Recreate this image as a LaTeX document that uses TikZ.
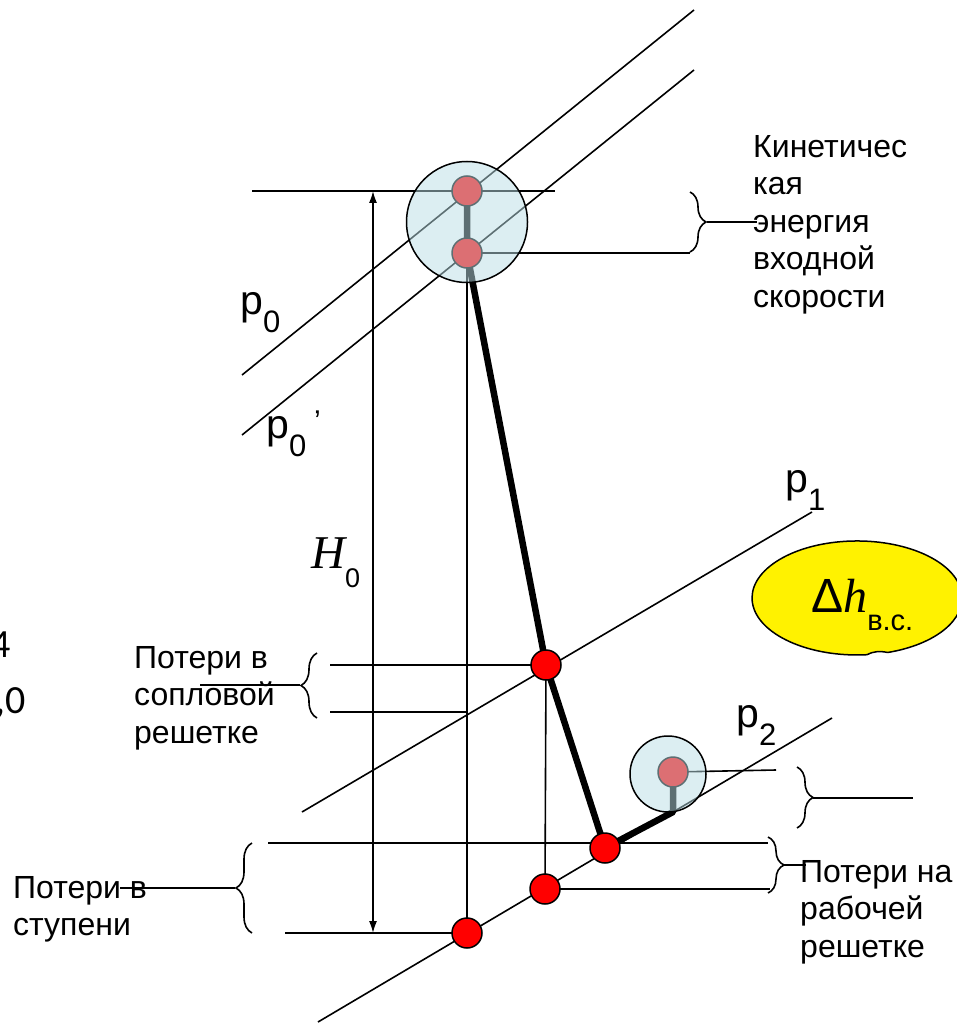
\documentclass[tikz,border=0pt]{standalone}
\usepackage{fontspec}
\setmainfont{Liberation Sans}
\newfontfamily\serifit{Liberation Serif}
\newfontfamily\digitfont{Carlito}
\usetikzlibrary{arrows.meta, decorations.pathreplacing, positioning}
\definecolor{lensblue}{RGB}{186,222,230}
\newcommand{\pname}[1]{{\fontsize{41}{41}\selectfont p}\raisebox{-18pt}{\fontsize{31}{31}\selectfont #1}}

\begin{document}
\begin{tikzpicture}[
    x=1pt, y=-1pt,
    thinline/.style={line width=1.6pt},
    process/.style={line width=6.5pt, line join=round},
    state/.style={circle, draw, line width=1.5pt, fill=red, minimum size=30pt, inner sep=0pt},
    lens/.style={circle, draw=black, line width=1.5pt, fill=lensblue, fill opacity=0.5, inner sep=0pt},
    legend/.style={font=\fontsize{32}{37.5}\selectfont, align=left, anchor=north west, inner sep=0pt},
    bracket/.style={decorate, decoration={brace, amplitude=16pt}, line width=1.6pt}
]
    \useasboundingbox (0,0) rectangle (957,1024);

    % State points
    \coordinate (s0) at (467,191);
    \coordinate (s0p) at (467,253);
    \coordinate (s1) at (546,665);
    \coordinate (s2) at (605,848);
    \coordinate (s2t) at (545,889);
    \coordinate (s2s) at (467,933);
    \coordinate (sb) at (673,812);
    \coordinate (sc) at (673,772);

    % Isobars
    \coordinate (a0) at (242,375);  \coordinate (b0) at (694,10);
    \coordinate (a0p) at (242,435); \coordinate (b0p) at (694,70);
    \coordinate (a1) at (302,812);  \coordinate (b1) at (812,512);
    \coordinate (a2) at (318,1022); \coordinate (b2) at (832,718);
    \draw[thinline] (a0) -- (b0);
    \draw[thinline] (a0p) -- (b0p);
    \draw[thinline] (a1) -- (b1);
    \draw[thinline] (a2) -- (b2);

    % Levels
    \coordinate (h0l) at (252,191);  \coordinate (h0r) at (555,191);
    \coordinate (h0pr) at (690,253);
    \coordinate (h1l) at (330,665);
    \coordinate (h1tl) at (330,712); \coordinate (h1tr) at (467,712);
    \coordinate (h2l) at (268,843);  \coordinate (h2r) at (768,843);
    \coordinate (h2tr) at (770,889);
    \coordinate (h2sl) at (285,933);
    \coordinate (hcr) at (776,770);
    \draw[thinline] (h0l) -- (h0r);
    \draw[thinline] (s0p) -- (h0pr);
    \draw[thinline] (h1l) -- (s1);
    \draw[thinline] (h1tl) -- (h1tr);
    \draw[thinline] (h2l) -- (h2r);
    \draw[thinline] (s2t) -- (h2tr);
    \draw[thinline] (h2sl) -- (s2s);
    \draw[thinline] (sc) -- (hcr);
    \draw[thinline] (s0p) -- (s2s);
    \draw[thinline] (s1) -- (s2t);

    % H0
    \coordinate (ht) at (373,191);
    \coordinate (hb) at (373,933);
    \draw[thinline, {Latex[length=12pt,width=8pt]}-{Latex[length=12pt,width=8pt]}] (ht) -- (hb);

    % Expansion line
    \draw[process] (s0) -- (s0p) -- (s1) -- (s2) -- (sb) -- (sc);

    % Points
    \node[state] (d0) at (s0) {};
    \node[state] (d0p) at (s0p) {};
    \node[state] (d1) at (s1) {};
    \node[state] (d2) at (s2) {};
    \node[state] (d2t) at (s2t) {};
    \node[state] (d2s) at (s2s) {};
    \node[state] (dc) at (sc) {};

    % Velocity circles
    \node[lens, minimum size=121pt] (inlet) at (467,222) {};
    \node[lens, minimum size=76pt] (outlet) at (668,774) {};

    % Braces
    \draw[bracket] (690,192) -- (690,252);
    \draw[bracket] (317,718) -- (317,653);
    \draw[bracket] (252,933) -- (252,843);
    \draw[bracket] (768,837) -- (768,893);
    \draw[bracket] (797,767) -- (797,828);
    \coordinate (tk) at (707,222);   \coordinate (ek) at (757,222);
    \coordinate (tn) at (300,685);   \coordinate (en) at (200,685);
    \coordinate (ts) at (235,888);   \coordinate (es) at (120,888);
    \coordinate (tr) at (784,865);   \coordinate (er) at (806,865);
    \coordinate (tc) at (813,798);   \coordinate (ec) at (913,798);
    \draw[thinline] (tk) -- (ek);
    \draw[thinline] (tn) -- (en);
    \draw[thinline] (ts) -- (es);
    \draw[thinline] (tr) -- (er);
    \draw[thinline] (tc) -- (ec);

    % Labels
    \node[legend] (kin) at (753,135) {Кинетичес\\кая\\энергия\\входной\\скорости};
    \node[legend] (nozzle) at (134,646) {Потери в\\сопловой\\решетке};
    \node[legend] (stage) at (13,876) {Потери в\\ступени};
    \node[legend] (rotor) at (800,860) {Потери на\\рабочей\\решетке};

    \node[anchor=base west, inner sep=0pt] (lp0) at (240,314) {\pname{0}};
    \node[anchor=base west, inner sep=0pt] (lp0p) at (266,438) {\pname{0}};
    \node[anchor=base west, inner sep=0pt, font=\fontsize{30}{30}\selectfont] (prime) at (314,431) {’};
    \node[anchor=base west, inner sep=0pt] (lp1) at (785,492) {\pname{1}};
    \node[anchor=base west, inner sep=0pt] (lp2) at (736,727) {\pname{2}};
    \node[anchor=base west, inner sep=0pt] (lH) at (311,568)
        {{\fontsize{47}{47}\selectfont\serifit\itshape H}\raisebox{-19pt}{\fontsize{27}{27}\selectfont 0}};

    % Exit loss callout
    \draw[line width=1.5pt, fill=yellow] (867.1,654.7)
        arc[start angle=84.5, end angle=433, x radius=105, y radius=57]
        .. controls (880,651) and (874,651) .. (867.1,654.7) -- cycle;
    \node[anchor=base west, inner sep=0pt] (ldh) at (811,612)
        {{\fontsize{48}{48}\selectfont Δ{\serifit\itshape h}}\raisebox{-18pt}{\fontsize{29}{29}\selectfont в.с.}};

    % Cut-off numbers
    \node[anchor=base east, inner sep=0pt, font=\digitfont\fontsize{40}{40}\selectfont] (n4) at (11,657) {4};
    \node[anchor=base east, inner sep=0pt, font=\digitfont\fontsize{40}{40}\selectfont] (n0) at (26,713) {,0};
\end{tikzpicture}
\end{document}
